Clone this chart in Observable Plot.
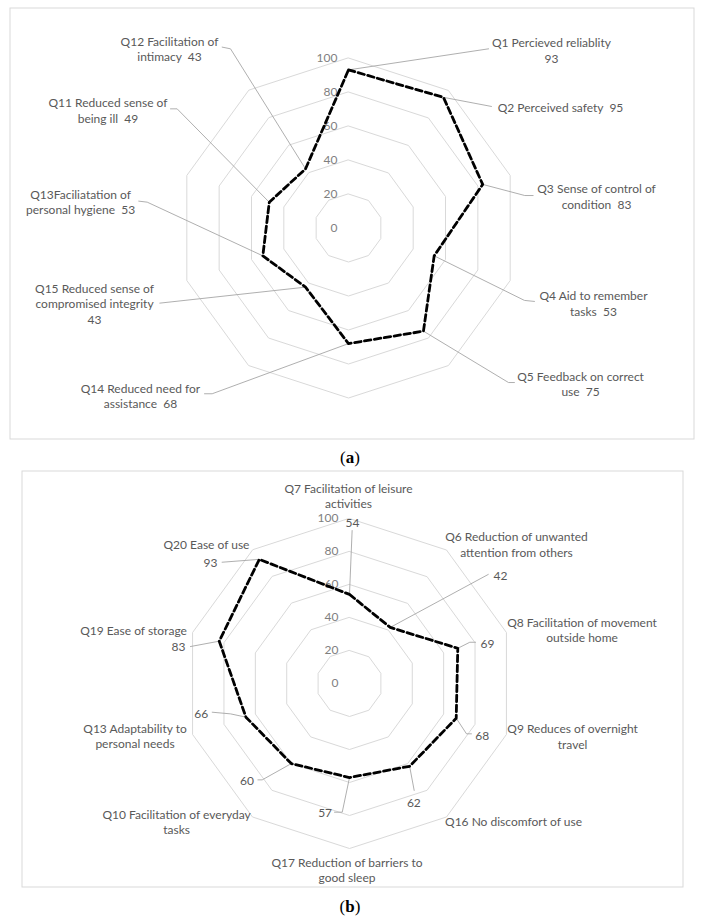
<!DOCTYPE html>
<html><head><meta charset="utf-8">
<script src="https://cdn.jsdelivr.net/npm/d3@7"></script>
<script src="https://cdn.jsdelivr.net/npm/@observablehq/plot@0.6"></script>
<style>
body{margin:0;background:#fff;}
#page{position:relative;width:702px;height:921px;overflow:hidden;background:#fff;}
.chart{position:absolute;}
.cap{position:absolute;width:60px;text-align:center;font-family:"Liberation Serif","DejaVu Serif",serif;font-size:17px;line-height:20px;color:#000;}
</style></head><body><div id="page">
<div id="a" class="chart" style="left:9px;top:7px"></div>
<div class="cap" style="left:320px;top:448px">(<b>a</b>)</div>
<div id="b" class="chart" style="left:21px;top:470px"></div>
<div class="cap" style="left:320px;top:897px">(<b>b</b>)</div>
</div>
<script>
// ---------- data: chart (a) ----------
const categoriesA = ["Q1","Q2","Q3","Q4","Q5","Q14","Q15","Q13","Q11","Q12"];
const valuesA = [93,95,83,53,75,68,43,53,49,43];
const labelsA = [
  "Q1 Percieved reliablity\n93",
  "Q2 Perceived safety  95",
  "Q3 Sense of control of\ncondition  83",
  "Q4 Aid to remember\ntasks  53",
  "Q5 Feedback on correct\nuse  75",
  "Q14 Reduced need for\nassistance  68",
  "Q15 Reduced sense of\ncompromised integrity\n43",
  "Q13Faciliatation of\npersonal hygiene  53",
  "Q11 Reduced sense of\nbeing ill  49",
  "Q12 Facilitation of\nintimacy  43"
];
// ---------- data: chart (b) ----------
const categoriesB = ["Q7","Q6","Q8","Q9","Q16","Q17","Q10","Q13","Q19","Q20"];
const valuesB = [54,42,69,68,62,57,60,66,83,93];
const namesB = [
  "Q7 Facilitation of leisure\nactivities",
  "Q6 Reduction of unwanted\nattention from others",
  "Q8 Facilitation of movement\noutside home",
  "Q9 Reduces of overnight\ntravel",
  "Q16 No discomfort of use",
  "Q17 Reduction of barriers to\ngood sleep",
  "Q10 Facilitation of everyday\ntasks",
  "Q13 Adaptability to\npersonal needs",
  "Q19 Ease of storage",
  "Q20 Ease of use"
];
// radial axis tick labels
const ticks = [0,20,40,60,80,100];

// ---------- layout (annotation anchors, in value units relative to centre) ----------
const labelPosA = [[119.4,104.7],[124.7,70.9],[145.9,18.8],[144.1,-44.1],[136.5,-91.5],[-122.4,-98.5],[-149.4,-44.4],[-157.6,15.6],[-141.5,69.4],[-105.3,105.6]];
const leaderA = [[[82.4,105.4]],[[84.1,71.5]],[[103.7,19.1],[108.6,19.1]],[[103.5,-42.6],[109.4,-43.2]],[[94.1,-90.9],[97.6,-90.9]],[[-80.2,-97.5],[-84.7,-97.5]],[[-111,-44.2]],[[-118.4,15.2],[-123.4,15.8]],[[-100.8,70.1],[-104.7,70.1]],[[-69.4,105.4],[-74.3,106.4]]];
const namePosB = [[-0.6,113.9],[101.2,84.5],[140.9,32.6],[135.2,-31.8],[99.4,-83.5],[-1.5,-112.9],[-104.8,-83.5],[-130,-31.6],[-130.9,32.5],[-86.7,84.2]];
const valuePosB = [[1.8,97.8],[91.5,65.5],[83.6,24.4],[80.4,-31.5],[39,-71.9],[-14.8,-78],[-62.1,-58.4],[-89.9,-18],[-103.6,22.4],[-84.2,73.5]];
const leaderB = [[[1.6,92.7]],[[84.1,66.1]],[[72.9,25],[76.4,25]],[[70.9,-30.5],[73.9,-30.5]],[[39.2,-64.8]],[[-4.4,-78],[-9.1,-78]],[[-52.9,-58.4],[-55.5,-58.4]],[[-72.1,-18.4],[-83.2,-17.4]],[[-96.4,22.4]],[[-77.2,73.5]]];

const FONT = "Lato, 'Open Sans', sans-serif";
const TXT = "#595959";

function radar({cats, vals, W, H, cx, cy, k, texts}) {
  const n = cats.length;
  const ang = i => i * 2 * Math.PI / n;
  const pts = cats.map((c, i) => ({cat: c, v: vals[i], x: vals[i] * Math.sin(ang(i)), y: vals[i] * Math.cos(ang(i))}));
  const rings = ticks.filter(t => t > 0).flatMap(t => cats.map((c, i) => ({t, x: t * Math.sin(ang(i)), y: t * Math.cos(ang(i))})));
  const leaders = texts.leaders.flatMap((segs, i) => [{i, x: pts[i].x, y: pts[i].y}, ...segs.map(([x, y]) => ({i, x, y}))]);
  const marks = [
    Plot.frame({stroke: "#d9d9d9", inset: 0.5}),
    Plot.line(rings, {x: "x", y: "y", z: "t", curve: "linear-closed", stroke: "#d9d9d9", strokeWidth: 1}),
    Plot.text(ticks, {x: 0, y: d => d, text: d => String(d), textAnchor: "end", dx: -11, fill: "#7f7f7f", fontSize: 12}),
    Plot.line(leaders, {x: "x", y: "y", z: "i", stroke: "#a6a6a6", strokeWidth: 0.9}),
    Plot.line(pts, {x: "x", y: "y", curve: "linear-closed", stroke: "#000", strokeWidth: 2.8, strokeDasharray: "6.5,3.5"}),
    ...texts.groups.map(g => Plot.text(g.text, {x: (d, i) => g.pos[i][0], y: (d, i) => g.pos[i][1], text: d => d, lineHeight: 1.28, fill: TXT, fontSize: 12}))
  ];
  return Plot.plot({
    width: W, height: H,
    margin: 0,
    x: {domain: [-cx / k, (W - cx) / k], axis: null},
    y: {domain: [-(H - cy) / k, cy / k], axis: null},
    style: {fontFamily: FONT, background: "transparent", overflow: "visible"},
    marks
  });
}

document.getElementById("a").append(radar({
  cats: categoriesA, vals: valuesA, W: 685, H: 432, cx: 339, cy: 220.5, k: 1.7,
  texts: {leaders: leaderA, groups: [{text: labelsA, pos: labelPosA}]}
}));
document.getElementById("b").append(radar({
  cats: categoriesB, vals: valuesB, W: 662, H: 417, cx: 328, cy: 213, k: 1.65,
  texts: {leaders: leaderB, groups: [{text: namesB, pos: namePosB}, {text: valuesB.map(String), pos: valuePosB}]}
}));
</script>
</body></html>
